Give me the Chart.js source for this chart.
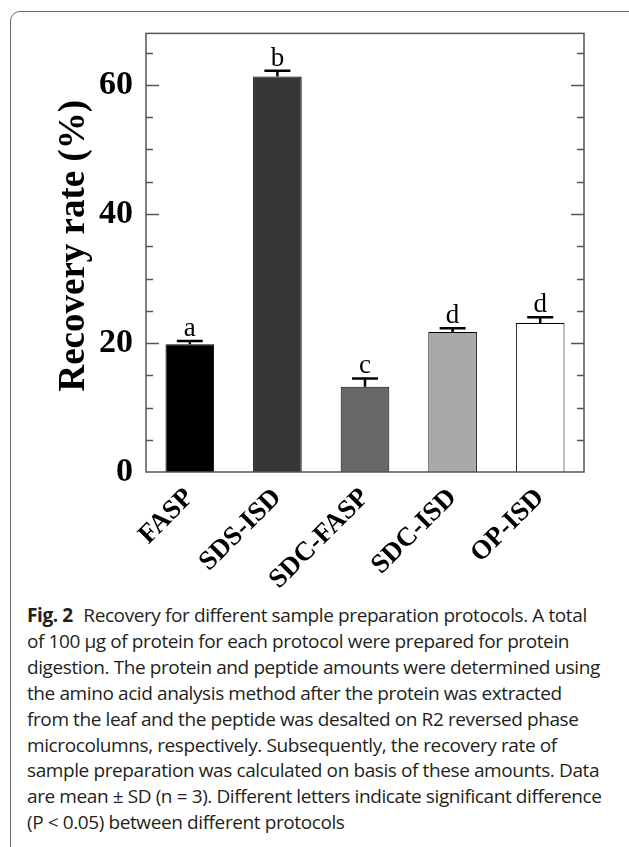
<!DOCTYPE html>
<html>
<head>
<meta charset="utf-8">
<script src="https://cdn.jsdelivr.net/npm/chart.js@4.4.1/dist/chart.umd.min.js"></script>
<style>
  html, body { margin: 0; padding: 0; background: #fff; }
  body { width: 629px; height: 847px; position: relative; overflow: hidden; }
  #panel {
    position: absolute; left: 10px; top: 11px; width: 640px; height: 860px;
    border: 1px solid #666; border-radius: 10px; box-sizing: border-box;
  }
  #chart-box { position: absolute; left: 0; top: 0; width: 629px; height: 600px; }
  #caption {
    position: absolute; left: 27px; top: 603px; width: 600px;
    font-family: "Open Sans", sans-serif; font-size: 19px; line-height: 25.9px;
    color: #231f20; white-space: nowrap; letter-spacing: -0.4px;
  }
  #caption b { font-weight: 700; margin-right: 6px; }
</style>
</head>
<body>
<div id="panel"></div>
<div id="chart-box"><canvas id="recoveryChart"></canvas></div>
<div id="caption">
  <b>Fig. 2</b> Recovery for different sample preparation protocols. A total<br>
  of 100 μg of protein for each protocol were prepared for protein<br>
  digestion. The protein and peptide amounts were determined using<br>
  the amino acid analysis method after the protein was extracted<br>
  from the leaf and the peptide was desalted on R2 reversed phase<br>
  microcolumns, respectively. Subsequently, the recovery rate of<br>
  sample preparation was calculated on basis of these amounts. Data<br>
  are mean ± SD (n = 3). Different letters indicate significant difference<br>
  (P &lt; 0.05) between different protocols
</div>
<script>
// ---- data ----
const categories = ["FASP", "SDS-ISD", "SDC-FASP", "SDC-ISD", "OP-ISD"];
const recoveryMean = [19.8, 61.3, 13.2, 21.7, 23.1];
const recoverySD = [0.5, 0.9, 1.3, 0.6, 0.9];
const groupLetters = ["a", "b", "c", "d", "d"];
const yTickValues = [0, 20, 40, 60];
const yMax = 68;
const minorStep = 5;
const yTitle = "Recovery rate (%)";

const barFills = ["#000000", "#363636", "#686868", "#a9a9a9", "#ffffff"];
const serif = '"Liberation Serif", "Times New Roman", serif';

// frame, inward ticks, error bars, letters, axis title
const extras = {
    id: "extras",
    afterDatasetsDraw(chart) {
        const ctx = chart.ctx;
        const a = chart.chartArea;
        const ys = chart.scales.y;
        ctx.save();

        // frame
        ctx.strokeStyle = "#555";
        ctx.lineWidth = 1.5;
        ctx.strokeRect(a.left, a.top, a.right - a.left, a.bottom - a.top);

        // inward ticks on both sides
        ctx.lineWidth = 1.3;
        for (let v = minorStep; v < yMax; v += minorStep) {
            const y = Math.round(ys.getPixelForValue(v)) + 0.5;
            const len = yTickValues.includes(v) ? 13 : 7;
            ctx.beginPath();
            ctx.moveTo(a.left, y); ctx.lineTo(a.left + len, y);
            ctx.moveTo(a.right, y); ctx.lineTo(a.right - len, y);
            ctx.stroke();
        }

        // error bars (upper only) + significance letters
        const meta = chart.getDatasetMeta(0);
        ctx.strokeStyle = "#000";
        ctx.fillStyle = "#000";
        ctx.font = "27px " + serif;
        ctx.textAlign = "center";
        ctx.textBaseline = "alphabetic";
        meta.data.forEach((bar, i) => {
            const yTop = ys.getPixelForValue(recoveryMean[i]);
            const yCap = ys.getPixelForValue(recoveryMean[i] + recoverySD[i]);
            ctx.lineWidth = 2.5;
            ctx.beginPath();
            ctx.moveTo(bar.x, yTop); ctx.lineTo(bar.x, yCap);
            ctx.moveTo(bar.x - 13, yCap); ctx.lineTo(bar.x + 13, yCap);
            ctx.stroke();
            ctx.fillText(groupLetters[i], bar.x, yCap - 5);
        });

        // y title, sat a little above the middle of the axis like the print
        ctx.font = "bold 37px " + serif;
        ctx.textBaseline = "middle";
        ctx.translate(74, (a.top + a.bottom) / 2 - 7);
        ctx.rotate(-Math.PI / 2);
        ctx.fillText(yTitle, 0, 0);
        ctx.restore();
    }
};

new Chart(document.getElementById("recoveryChart"), {
    type: "bar",
    data: {
        labels: categories,
        datasets: [{
            data: recoveryMean,
            backgroundColor: barFills,
            borderColor: "#000",
            borderWidth: 1,
            barPercentage: 0.555,
            categoryPercentage: 1
        }]
    },
    options: {
        responsive: true,
        maintainAspectRatio: false,
        animation: false,
        layout: { padding: { top: 29, right: 45, left: 0, bottom: 0 } },
        plugins: { legend: { display: false }, tooltip: { enabled: false } },
        scales: {
            x: {
                grid: { display: false, drawTicks: false },
                border: { display: false },
                ticks: {
                    color: "#000",
                    font: { family: serif, weight: "bold", size: 27 },
                    minRotation: 45, maxRotation: 45,
                    padding: 10
                },
                afterFit(s) { s.height = 128; }
            },
            y: {
                min: 0, max: yMax,
                grid: { display: false, drawTicks: false },
                border: { display: false },
                afterBuildTicks(s) { s.ticks = yTickValues.map(v => ({ value: v })); },
                ticks: {
                    color: "#000",
                    font: { family: serif, weight: "bold", size: 34 },
                    padding: 13
                },
                afterFit(s) { s.width = 146; }
            }
        }
    },
    plugins: [extras]
});
</script>
</body>
</html>
